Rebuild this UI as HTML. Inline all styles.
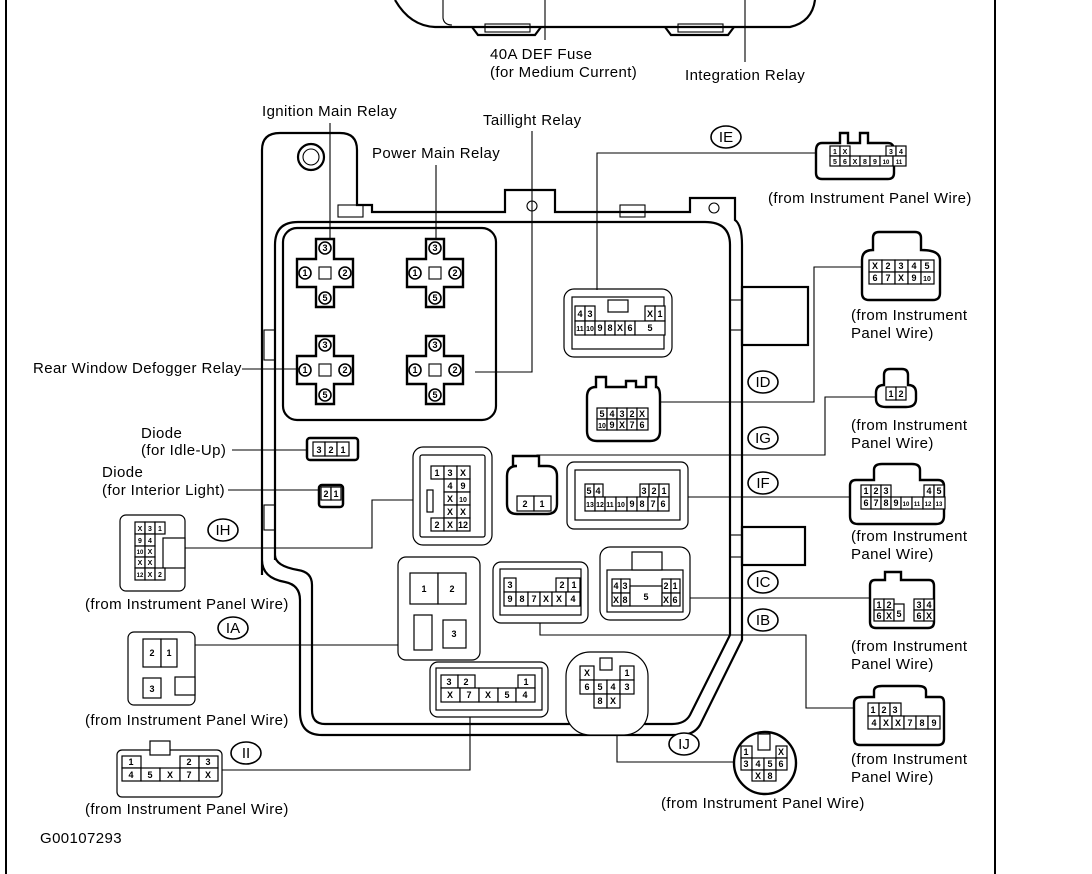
<!DOCTYPE html>
<html><head><meta charset="utf-8"><style>
html,body{margin:0;padding:0;background:#fff;}
svg{display:block;}
text{font-family:"Liberation Sans",Arial,sans-serif;font-size:15px;letter-spacing:0.4px;fill:#000;}
.c text{font-size:9px;font-weight:bold;text-anchor:middle;letter-spacing:0;}
.c rect{fill:#fff;stroke:#000;stroke-width:1.2;}
.h{fill:#fff;stroke:#000;stroke-width:2.4;}
.l{fill:none;stroke:#000;stroke-width:1.1;}
.o{fill:none;stroke:#000;stroke-width:2.2;}
.cl{fill:#fff;stroke:#000;stroke-width:1.6;}
.lab{text-anchor:middle;font-size:15px;letter-spacing:0;}
.r text{letter-spacing:0;}
</style></head><body>
<svg width="1092" height="874" viewBox="0 0 1092 874" xmlns="http://www.w3.org/2000/svg">
<line x1="6" y1="0" x2="6" y2="874" stroke="#000" stroke-width="2"/>
<line x1="995" y1="0" x2="995" y2="874" stroke="#000" stroke-width="2"/>

<path class="o" d="M395,0 Q410,26 435,27 L790,27 Q812,22 815,0"/>
<path class="l" d="M443,0 L443,18 Q444,25 452,25"/>
<path class="o" d="M472,27 L478,35 L535,35 L541,27"/>
<rect x="485" y="24" width="45" height="8" class="l"/>
<path class="o" d="M665,27 L671,35 L728,35 L734,27"/>
<rect x="678" y="24" width="45" height="8" class="l"/>
<line x1="545" y1="0" x2="545" y2="40" class="l"/>
<line x1="745" y1="0" x2="745" y2="62" class="l"/>
<text x="490" y="59">40A DEF Fuse</text>
<text x="490" y="77">(for Medium Current)</text>
<text x="685" y="80">Integration Relay</text>

<path class="o" d="M262,575 L262,150 Q262,133 280,133 L340,133 Q357,133 357,150 L357,205 L372,205 L372,212 L505,212 L505,190 L555,190 L555,212 L690,212 L690,198 L735,198 L735,220 Q742,225 742,245 L742,640 L700,725 Q694,735 680,735 L322,735 Q300,735 300,712 L300,600 Q300,585 285,582 Q262,578 262,560"/>
<path class="o" d="M275,560 L275,245 Q275,222 298,222 L705,222 Q730,222 730,245 L730,635 L690,715 Q685,724 672,724 L325,724 Q312,724 312,710 L312,585 Q312,572 298,570 Q275,566 275,555"/>
<circle cx="311" cy="157" r="13" class="o"/><circle cx="311" cy="157" r="8" class="l"/>
<circle cx="532" cy="206" r="5" class="l"/><circle cx="714" cy="208" r="5" class="l"/>
<rect x="338" y="205" width="25" height="12" class="l"/>
<rect x="620" y="205" width="25" height="12" class="l"/>
<rect x="742" y="287" width="66" height="58" class="o"/>
<rect x="742" y="527" width="63" height="38" class="o"/>
<rect x="730" y="300" width="12" height="30" class="l"/>
<rect x="730" y="535" width="12" height="22" class="l"/>
<rect x="264" y="330" width="11" height="30" class="l"/>
<rect x="264" y="505" width="11" height="25" class="l"/>

<rect x="283" y="228" width="213" height="192" rx="14" class="o"/>
<g class="r">
<g transform="translate(325,273)"><path class="h" d="M-9,-34 h18 v20 h19 v28 h-19 v20 h-18 v-20 h-19 v-28 h19 z"/><rect x="-6" y="-6" width="12" height="12" class="l"/><circle cx="0" cy="-25" r="6" class="cl"/><text x="0" y="-22" style="font-size:9px;font-weight:bold;text-anchor:middle">3</text><circle cx="-20" cy="0" r="6" class="cl"/><text x="-20" y="3" style="font-size:9px;font-weight:bold;text-anchor:middle">1</text><circle cx="20" cy="0" r="6" class="cl"/><text x="20" y="3" style="font-size:9px;font-weight:bold;text-anchor:middle">2</text><circle cx="0" cy="25" r="6" class="cl"/><text x="0" y="28" style="font-size:9px;font-weight:bold;text-anchor:middle">5</text></g>
<g transform="translate(435,273)"><path class="h" d="M-9,-34 h18 v20 h19 v28 h-19 v20 h-18 v-20 h-19 v-28 h19 z"/><rect x="-6" y="-6" width="12" height="12" class="l"/><circle cx="0" cy="-25" r="6" class="cl"/><text x="0" y="-22" style="font-size:9px;font-weight:bold;text-anchor:middle">3</text><circle cx="-20" cy="0" r="6" class="cl"/><text x="-20" y="3" style="font-size:9px;font-weight:bold;text-anchor:middle">1</text><circle cx="20" cy="0" r="6" class="cl"/><text x="20" y="3" style="font-size:9px;font-weight:bold;text-anchor:middle">2</text><circle cx="0" cy="25" r="6" class="cl"/><text x="0" y="28" style="font-size:9px;font-weight:bold;text-anchor:middle">5</text></g>
<g transform="translate(325,370)"><path class="h" d="M-9,-34 h18 v20 h19 v28 h-19 v20 h-18 v-20 h-19 v-28 h19 z"/><rect x="-6" y="-6" width="12" height="12" class="l"/><circle cx="0" cy="-25" r="6" class="cl"/><text x="0" y="-22" style="font-size:9px;font-weight:bold;text-anchor:middle">3</text><circle cx="-20" cy="0" r="6" class="cl"/><text x="-20" y="3" style="font-size:9px;font-weight:bold;text-anchor:middle">1</text><circle cx="20" cy="0" r="6" class="cl"/><text x="20" y="3" style="font-size:9px;font-weight:bold;text-anchor:middle">2</text><circle cx="0" cy="25" r="6" class="cl"/><text x="0" y="28" style="font-size:9px;font-weight:bold;text-anchor:middle">5</text></g>
<g transform="translate(435,370)"><path class="h" d="M-9,-34 h18 v20 h19 v28 h-19 v20 h-18 v-20 h-19 v-28 h19 z"/><rect x="-6" y="-6" width="12" height="12" class="l"/><circle cx="0" cy="-25" r="6" class="cl"/><text x="0" y="-22" style="font-size:9px;font-weight:bold;text-anchor:middle">3</text><circle cx="-20" cy="0" r="6" class="cl"/><text x="-20" y="3" style="font-size:9px;font-weight:bold;text-anchor:middle">1</text><circle cx="20" cy="0" r="6" class="cl"/><text x="20" y="3" style="font-size:9px;font-weight:bold;text-anchor:middle">2</text><circle cx="0" cy="25" r="6" class="cl"/><text x="0" y="28" style="font-size:9px;font-weight:bold;text-anchor:middle">5</text></g>
</g>

<text x="262" y="116">Ignition Main Relay</text>
<line x1="330" y1="123" x2="330" y2="240" class="l"/>
<text x="372" y="158">Power Main Relay</text>
<line x1="436" y1="165" x2="436" y2="240" class="l"/>
<text x="483" y="125">Taillight Relay</text>
<path class="l" d="M532,131 V372 H475"/>
<text x="33" y="373">Rear Window Defogger Relay</text>
<line x1="242" y1="369" x2="300" y2="369" class="l"/>

<text x="141" y="438">Diode</text>
<text x="141" y="455">(for Idle-Up)</text>
<line x1="232" y1="450" x2="307" y2="450" class="l"/>
<text x="102" y="477">Diode</text>
<text x="102" y="495">(for Interior Light)</text>
<line x1="228" y1="490" x2="319" y2="490" class="l"/>
<g class="c"><rect x="307" y="438" width="51" height="22" rx="3" style="stroke-width:2.5"/>
<rect x="313" y="442" width="12" height="14"/><text x="319" y="453">3</text><rect x="325" y="442" width="12" height="14"/><text x="331" y="453">2</text><rect x="337" y="442" width="12" height="14"/><text x="343" y="453">1</text></g>
<g class="c"><rect x="319" y="485" width="24" height="22" rx="3" style="stroke-width:2.5"/>
<rect x="321" y="487" width="10" height="13"/><text x="326" y="497">2</text><rect x="331" y="487" width="10" height="13"/><text x="336" y="497">1</text></g>

<g class="c"><rect x="413" y="447" width="79" height="98" rx="10" class="h"/><rect x="420" y="455" width="65" height="82" rx="2" class="l"/>
<rect x="431" y="466" width="13" height="13"/><text x="437" y="476">1</text><rect x="444" y="466" width="13" height="13"/><text x="450" y="476">3</text><rect x="457" y="466" width="13" height="13"/><text x="463" y="476">X</text>
<rect x="444" y="479" width="13" height="13"/><text x="450" y="489">4</text><rect x="457" y="479" width="13" height="13"/><text x="463" y="489">9</text>
<rect x="444" y="492" width="13" height="13"/><text x="450" y="502">X</text><rect x="457" y="492" width="13" height="13"/><text x="463" y="502" style="font-size:7px">10</text>
<rect x="444" y="505" width="13" height="13"/><text x="450" y="515">X</text><rect x="457" y="505" width="13" height="13"/><text x="463" y="515">X</text>
<rect x="431" y="518" width="13" height="13"/><text x="437" y="528">2</text><rect x="444" y="518" width="13" height="13"/><text x="450" y="528">X</text><rect x="457" y="518" width="13" height="13"/><text x="463" y="528">12</text>
<rect x="427" y="490" width="6" height="22" class="l"/></g>

<g class="c"><path class="h" d="M513,466 v-10 h26 v10 h8 q10,0 10,10 v28 q0,10 -10,10 h-30 q-10,0 -10,-10 v-28 q0,-10 10,-10 z"/>
<rect x="517" y="496" width="17" height="15"/><text x="525" y="507">2</text><rect x="534" y="496" width="17" height="15"/><text x="542" y="507">1</text></g>

<g class="c"><rect x="567" y="462" width="121" height="67" rx="7" class="h"/><rect x="575" y="470" width="105" height="50" class="l"/>
<rect x="585" y="484" width="9" height="13"/><text x="589" y="494">5</text><rect x="594" y="484" width="9" height="13"/><text x="598" y="494">4</text>
<rect x="640" y="484" width="9" height="13"/><text x="644" y="494">3</text><rect x="649" y="484" width="10" height="13"/><text x="654" y="494">2</text><rect x="659" y="484" width="10" height="13"/><text x="664" y="494">1</text>
<rect x="585" y="497" width="10" height="14"/><text x="590" y="507" style="font-size:7px">13</text><rect x="595" y="497" width="10" height="14"/><text x="600" y="507" style="font-size:7px">12</text><rect x="605" y="497" width="11" height="14"/><text x="610" y="507" style="font-size:7px">11</text><rect x="616" y="497" width="11" height="14"/><text x="621" y="507" style="font-size:7px">10</text><rect x="627" y="497" width="10" height="14"/><text x="632" y="507">9</text><rect x="637" y="497" width="11" height="14"/><text x="642" y="507">8</text><rect x="648" y="497" width="10" height="14"/><text x="653" y="507">7</text><rect x="658" y="497" width="11" height="14"/><text x="663" y="507">6</text></g>

<g class="c"><rect x="564" y="289" width="108" height="68" rx="10" class="h"/><rect x="572" y="297" width="92" height="52" class="l"/>
<rect x="575" y="306" width="10" height="15"/><text x="580" y="317">4</text><rect x="585" y="306" width="10" height="15"/><text x="590" y="317">3</text>
<rect x="645" y="306" width="10" height="15"/><text x="650" y="317">X</text><rect x="655" y="306" width="10" height="15"/><text x="660" y="317">1</text>
<rect x="575" y="321" width="10" height="14"/><text x="580" y="331" style="font-size:7px">11</text><rect x="585" y="321" width="10" height="14"/><text x="590" y="331" style="font-size:7px">10</text><rect x="595" y="321" width="10" height="14"/><text x="600" y="331">9</text><rect x="605" y="321" width="10" height="14"/><text x="610" y="331">8</text><rect x="615" y="321" width="10" height="14"/><text x="620" y="331">X</text><rect x="625" y="321" width="10" height="14"/><text x="630" y="331">6</text><rect x="635" y="321" width="30" height="14"/><text x="650" y="331">5</text>
<rect x="608" y="300" width="20" height="12" class="l"/></g>

<g class="c"><path class="h" d="M596,387 v-10 h10 v10 h20 v-6 h10 v6 h10 v-10 h10 v10 q4,0 4,10 v34 q0,10 -10,10 h-53 q-10,0 -10,-10 v-34 q0,-10 9,-10 z"/>
<rect x="597" y="408" width="10" height="11"/><text x="602" y="417">5</text><rect x="607" y="408" width="10" height="11"/><text x="612" y="417">4</text><rect x="617" y="408" width="10" height="11"/><text x="622" y="417">3</text><rect x="627" y="408" width="10" height="11"/><text x="632" y="417">2</text><rect x="637" y="408" width="11" height="11"/><text x="642" y="417">X</text>
<rect x="597" y="419" width="10" height="11"/><text x="602" y="428" style="font-size:7px">10</text><rect x="607" y="419" width="10" height="11"/><text x="612" y="428">9</text><rect x="617" y="419" width="10" height="11"/><text x="622" y="428">X</text><rect x="627" y="419" width="10" height="11"/><text x="632" y="428">7</text><rect x="637" y="419" width="11" height="11"/><text x="642" y="428">6</text></g>

<g class="c"><rect x="398" y="557" width="82" height="103" rx="8" class="h"/>
<rect x="410" y="573" width="28" height="31"/><text x="424" y="592">1</text><rect x="438" y="573" width="28" height="31"/><text x="452" y="592">2</text>
<rect x="443" y="620" width="23" height="28"/><text x="454" y="637">3</text><rect x="414" y="615" width="18" height="35" class="l"/></g>

<g class="c"><rect x="493" y="562" width="95" height="61" rx="8" class="h"/><rect x="500" y="569" width="81" height="46" class="l"/>
<rect x="504" y="578" width="12" height="14"/><text x="510" y="588">3</text><rect x="556" y="578" width="12" height="14"/><text x="562" y="588">2</text><rect x="568" y="578" width="12" height="14"/><text x="574" y="588">1</text>
<rect x="504" y="592" width="12" height="14"/><text x="510" y="602">9</text><rect x="516" y="592" width="12" height="14"/><text x="522" y="602">8</text><rect x="528" y="592" width="12" height="14"/><text x="534" y="602">7</text><rect x="540" y="592" width="12" height="14"/><text x="546" y="602">X</text><rect x="552" y="592" width="14" height="14"/><text x="559" y="602">X</text><rect x="566" y="592" width="14" height="14"/><text x="573" y="602">4</text></g>

<g class="c"><rect x="600" y="547" width="90" height="73" rx="10" class="h"/><rect x="607" y="570" width="76" height="42" class="l"/><rect x="632" y="552" width="30" height="18" class="l"/>
<rect x="612" y="579" width="9" height="14"/><text x="616" y="589">4</text><rect x="621" y="579" width="9" height="14"/><text x="625" y="589">3</text><rect x="662" y="579" width="9" height="14"/><text x="666" y="589">2</text><rect x="671" y="579" width="9" height="14"/><text x="675" y="589">1</text>
<rect x="612" y="593" width="9" height="13"/><text x="616" y="603">X</text><rect x="621" y="593" width="9" height="13"/><text x="625" y="603">8</text><rect x="630" y="586" width="32" height="20"/><text x="646" y="600">5</text><rect x="662" y="593" width="9" height="13"/><text x="666" y="603">X</text><rect x="671" y="593" width="9" height="13"/><text x="675" y="603">6</text></g>

<g class="c"><rect x="430" y="662" width="118" height="55" rx="8" class="h"/><rect x="436" y="668" width="106" height="42" class="l"/>
<rect x="441" y="675" width="17" height="13"/><text x="449" y="685">3</text><rect x="458" y="675" width="17" height="13"/><text x="466" y="685">2</text><rect x="518" y="675" width="17" height="13"/><text x="526" y="685">1</text>
<rect x="441" y="688" width="19" height="14"/><text x="450" y="698">X</text><rect x="460" y="688" width="19" height="14"/><text x="469" y="698">7</text><rect x="479" y="688" width="19" height="14"/><text x="488" y="698">X</text><rect x="498" y="688" width="18" height="14"/><text x="507" y="698">5</text><rect x="516" y="688" width="19" height="14"/><text x="525" y="698">4</text></g>

<g class="c"><rect x="566" y="652" width="82" height="83" rx="24" class="h"/>
<rect x="580" y="666" width="14" height="14"/><text x="587" y="676">X</text><rect x="600" y="658" width="12" height="12" class="l"/><rect x="620" y="666" width="14" height="14"/><text x="627" y="676">1</text>
<rect x="580" y="680" width="14" height="14"/><text x="587" y="690">6</text><rect x="594" y="680" width="13" height="14"/><text x="600" y="690">5</text><rect x="607" y="680" width="13" height="14"/><text x="613" y="690">4</text><rect x="620" y="680" width="14" height="14"/><text x="627" y="690">3</text>
<rect x="594" y="694" width="13" height="14"/><text x="600" y="704">8</text><rect x="607" y="694" width="13" height="14"/><text x="613" y="704">X</text></g>

<path class="l" d="M597,290 V153 H822"/>
<path class="l" d="M660,402 H814 V267 H862"/>
<path class="l" d="M537,456 V455 H825 V397 H877"/>
<path class="l" d="M688,497 H850"/>
<path class="l" d="M690,598 H870"/>
<path class="l" d="M540,623 V635 H806 V708 H857"/>
<path class="l" d="M617,735 V762 H733"/>
<path class="l" d="M470,717 V770 H222"/>
<path class="l" d="M398,645 H195"/>
<path class="l" d="M413,500 H372 V548 H185"/>

<g>
<ellipse cx="726" cy="137" rx="15" ry="11" class="cl"/><text x="726" y="142" class="lab">IE</text>
<ellipse cx="763" cy="382" rx="15" ry="11" class="cl"/><text x="763" y="387" class="lab">ID</text>
<ellipse cx="763" cy="438" rx="15" ry="11" class="cl"/><text x="763" y="443" class="lab">IG</text>
<ellipse cx="763" cy="483" rx="15" ry="11" class="cl"/><text x="763" y="488" class="lab">IF</text>
<ellipse cx="763" cy="582" rx="15" ry="11" class="cl"/><text x="763" y="587" class="lab">IC</text>
<ellipse cx="763" cy="620" rx="15" ry="11" class="cl"/><text x="763" y="625" class="lab">IB</text>
<ellipse cx="684" cy="744" rx="15" ry="11" class="cl"/><text x="684" y="749" class="lab">IJ</text>
<ellipse cx="223" cy="530" rx="15" ry="11" class="cl"/><text x="223" y="535" class="lab">IH</text>
<ellipse cx="233" cy="628" rx="15" ry="11" class="cl"/><text x="233" y="633" class="lab">IA</text>
<ellipse cx="246" cy="753" rx="15" ry="11" class="cl"/><text x="246" y="758" class="lab">II</text>
</g>

<g class="c"><path class="h" d="M822,143 h18 v-10 h8 v10 h12 v-10 h8 v10 h20 q6,0 6,8 v22 q0,6 -6,6 h-66 q-6,0 -6,-6 v-22 q0,-8 6,-8 z"/>
<rect x="830" y="146" width="10" height="10"/><text x="835" y="154" style="font-size:7px">1</text><rect x="840" y="146" width="10" height="10"/><text x="845" y="154" style="font-size:7px">X</text><rect x="886" y="146" width="10" height="10"/><text x="891" y="154" style="font-size:7px">3</text><rect x="896" y="146" width="10" height="10"/><text x="901" y="154" style="font-size:7px">4</text>
<rect x="830" y="156" width="10" height="10"/><text x="835" y="164" style="font-size:7px">5</text><rect x="840" y="156" width="10" height="10"/><text x="845" y="164" style="font-size:7px">6</text><rect x="850" y="156" width="10" height="10"/><text x="855" y="164" style="font-size:7px">X</text><rect x="860" y="156" width="10" height="10"/><text x="865" y="164" style="font-size:7px">8</text><rect x="870" y="156" width="10" height="10"/><text x="875" y="164" style="font-size:7px">9</text><rect x="880" y="156" width="13" height="10"/><text x="886" y="164" style="font-size:6px">10</text><rect x="893" y="156" width="13" height="10"/><text x="899" y="164" style="font-size:6px">11</text></g>
<text x="768" y="203">(from Instrument Panel Wire)</text>

<g class="c"><path class="h" d="M873,250 v-12 q0,-6 6,-6 h36 q6,0 6,6 v12 q19,0 19,10 v33 q0,7 -7,7 h-64 q-7,0 -7,-7 v-33 q0,-10 11,-10 z"/>
<rect x="869" y="260" width="13" height="12"/><text x="875" y="269">X</text><rect x="882" y="260" width="13" height="12"/><text x="888" y="269">2</text><rect x="895" y="260" width="13" height="12"/><text x="901" y="269">3</text><rect x="908" y="260" width="13" height="12"/><text x="914" y="269">4</text><rect x="921" y="260" width="13" height="12"/><text x="927" y="269">5</text>
<rect x="869" y="272" width="13" height="12"/><text x="875" y="281">6</text><rect x="882" y="272" width="13" height="12"/><text x="888" y="281">7</text><rect x="895" y="272" width="13" height="12"/><text x="901" y="281">X</text><rect x="908" y="272" width="13" height="12"/><text x="914" y="281">9</text><rect x="921" y="272" width="13" height="12"/><text x="927" y="281" style="font-size:7px">10</text></g>
<text x="851" y="320">(from Instrument</text><text x="851" y="338">Panel Wire)</text>

<g class="c"><path class="h" d="M884,385 v-10 q0,-6 6,-6 h12 q6,0 6,6 v10 q8,0 8,8 v6 q0,8 -10,8 h-20 q-10,0 -10,-8 v-6 q0,-8 8,-8 z"/>
<rect x="886" y="387" width="10" height="13"/><text x="891" y="397">1</text><rect x="896" y="387" width="10" height="13"/><text x="901" y="397">2</text></g>
<text x="851" y="430">(from Instrument</text><text x="851" y="448">Panel Wire)</text>

<g class="c"><path class="h" d="M856,480 h18 v-10 q0,-6 8,-6 h30 q8,0 8,6 v10 h18 q6,0 6,6 v30 q0,8 -8,8 h-78 q-8,0 -8,-8 v-30 q0,-6 6,-6 z"/>
<rect x="861" y="485" width="10" height="12"/><text x="866" y="494">1</text><rect x="871" y="485" width="10" height="12"/><text x="876" y="494">2</text><rect x="881" y="485" width="10" height="12"/><text x="886" y="494">3</text><rect x="924" y="485" width="10" height="12"/><text x="929" y="494">4</text><rect x="934" y="485" width="10" height="12"/><text x="939" y="494">5</text>
<rect x="861" y="497" width="10" height="12"/><text x="866" y="506">6</text><rect x="871" y="497" width="10" height="12"/><text x="876" y="506">7</text><rect x="881" y="497" width="10" height="12"/><text x="886" y="506">8</text><rect x="891" y="497" width="10" height="12"/><text x="896" y="506">9</text><rect x="901" y="497" width="11" height="12"/><text x="906" y="506" style="font-size:6px">10</text><rect x="912" y="497" width="11" height="12"/><text x="917" y="506" style="font-size:6px">11</text><rect x="923" y="497" width="11" height="12"/><text x="928" y="506" style="font-size:6px">12</text><rect x="934" y="497" width="11" height="12"/><text x="939" y="506" style="font-size:6px">13</text></g>
<text x="851" y="541">(from Instrument</text><text x="851" y="559">Panel Wire)</text>

<g class="c"><path class="h" d="M885,580 v-8 h16 v8 h28 q5,0 5,6 v36 q0,6 -6,6 h-52 q-6,0 -6,-6 v-36 q0,-6 5,-6 z"/>
<rect x="874" y="599" width="10" height="11"/><text x="879" y="608">1</text><rect x="884" y="599" width="10" height="11"/><text x="889" y="608">2</text><rect x="914" y="599" width="10" height="11"/><text x="919" y="608">3</text><rect x="924" y="599" width="10" height="11"/><text x="929" y="608">4</text>
<rect x="874" y="610" width="10" height="11"/><text x="879" y="619">6</text><rect x="884" y="610" width="10" height="11"/><text x="889" y="619">X</text><rect x="894" y="604" width="10" height="17"/><text x="899" y="617">5</text><rect x="914" y="610" width="10" height="11"/><text x="919" y="619">6</text><rect x="924" y="610" width="10" height="11"/><text x="929" y="619">X</text></g>
<text x="851" y="651">(from Instrument</text><text x="851" y="669">Panel Wire)</text>

<g class="c"><path class="h" d="M862,697 h12 v-6 q0,-5 8,-5 h36 q8,0 8,5 v6 h14 q4,0 4,6 v36 q0,6 -6,6 h-78 q-6,0 -6,-6 v-36 q0,-6 8,-6 z"/>
<rect x="868" y="703" width="11" height="13"/><text x="873" y="713">1</text><rect x="879" y="703" width="11" height="13"/><text x="884" y="713">2</text><rect x="890" y="703" width="11" height="13"/><text x="895" y="713">3</text>
<rect x="868" y="716" width="12" height="13"/><text x="874" y="726">4</text><rect x="880" y="716" width="12" height="13"/><text x="886" y="726">X</text><rect x="892" y="716" width="12" height="13"/><text x="898" y="726">X</text><rect x="904" y="716" width="12" height="13"/><text x="910" y="726">7</text><rect x="916" y="716" width="12" height="13"/><text x="922" y="726">8</text><rect x="928" y="716" width="12" height="13"/><text x="934" y="726">9</text></g>
<text x="851" y="764">(from Instrument</text><text x="851" y="782">Panel Wire)</text>

<g class="c"><circle cx="765" cy="763" r="31" class="h"/>
<rect x="741" y="746" width="11" height="12"/><text x="746" y="755">1</text><rect x="758" y="734" width="12" height="16" class="l"/><rect x="776" y="746" width="11" height="12"/><text x="781" y="755">X</text>
<rect x="741" y="758" width="11" height="12"/><text x="746" y="767">3</text><rect x="752" y="758" width="12" height="12"/><text x="758" y="767">4</text><rect x="764" y="758" width="12" height="12"/><text x="770" y="767">5</text><rect x="776" y="758" width="11" height="12"/><text x="781" y="767">6</text>
<rect x="752" y="770" width="12" height="11"/><text x="758" y="779">X</text><rect x="764" y="770" width="12" height="11"/><text x="770" y="779">8</text></g>
<text x="661" y="808">(from Instrument Panel Wire)</text>

<g class="c"><rect x="120" y="515" width="65" height="76" rx="6" class="h"/><rect x="163" y="538" width="22" height="30" class="h"/>
<rect x="135" y="522" width="10" height="12"/><text x="140" y="531" style="font-size:7px">X</text><rect x="145" y="522" width="10" height="12"/><text x="150" y="531" style="font-size:7px">3</text><rect x="155" y="522" width="10" height="12"/><text x="160" y="531" style="font-size:7px">1</text>
<rect x="135" y="534" width="10" height="12"/><text x="140" y="543" style="font-size:7px">9</text><rect x="145" y="534" width="10" height="12"/><text x="150" y="543" style="font-size:7px">4</text>
<rect x="135" y="546" width="10" height="11"/><text x="140" y="554" style="font-size:6px">10</text><rect x="145" y="546" width="10" height="11"/><text x="150" y="554" style="font-size:7px">X</text>
<rect x="135" y="557" width="10" height="11"/><text x="140" y="565" style="font-size:7px">X</text><rect x="145" y="557" width="10" height="11"/><text x="150" y="565" style="font-size:7px">X</text>
<rect x="135" y="568" width="10" height="12"/><text x="140" y="577" style="font-size:6px">12</text><rect x="145" y="568" width="10" height="12"/><text x="150" y="577" style="font-size:7px">X</text><rect x="155" y="568" width="10" height="12"/><text x="160" y="577" style="font-size:7px">2</text></g>
<text x="85" y="609">(from Instrument Panel Wire)</text>

<g class="c"><rect x="128" y="632" width="67" height="73" rx="6" class="h"/>
<rect x="143" y="639" width="18" height="28"/><text x="152" y="656">2</text><rect x="161" y="639" width="16" height="28"/><text x="169" y="656">1</text>
<rect x="143" y="678" width="18" height="20"/><text x="152" y="692">3</text><rect x="175" y="677" width="20" height="18" class="l"/></g>
<text x="85" y="725">(from Instrument Panel Wire)</text>

<g class="c"><rect x="117" y="750" width="105" height="47" rx="5" class="h"/><rect x="150" y="741" width="20" height="14" class="h"/>
<rect x="122" y="756" width="19" height="12"/><text x="131" y="765">1</text><rect x="180" y="756" width="19" height="12"/><text x="189" y="765">2</text><rect x="199" y="756" width="19" height="12"/><text x="208" y="765">3</text>
<rect x="122" y="768" width="19" height="13"/><text x="131" y="778">4</text><rect x="141" y="768" width="19" height="13"/><text x="150" y="778">5</text><rect x="160" y="768" width="20" height="13"/><text x="170" y="778">X</text><rect x="180" y="768" width="19" height="13"/><text x="189" y="778">7</text><rect x="199" y="768" width="19" height="13"/><text x="208" y="778">X</text></g>
<text x="85" y="814">(from Instrument Panel Wire)</text>

<text x="40" y="843">G00107293</text>
</svg>
</body></html>
